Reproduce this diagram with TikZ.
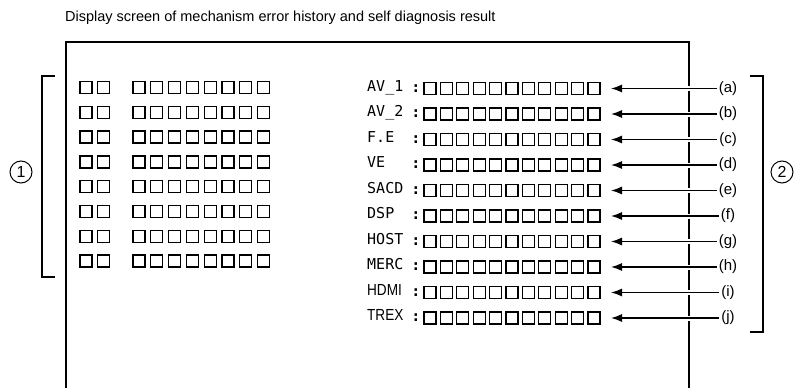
\documentclass[tikz,border=0pt]{standalone}
\usepackage{fontspec}
\setmainfont{Liberation Sans}
\newfontfamily\monofont{DejaVu Sans Mono}
\usetikzlibrary{arrows.meta}

\tikzset{
	cell/.style={draw, line width=1.3pt},
	unitname/.style={anchor=mid west, inner sep=0pt, font=\monofont\fontsize{15}{15}\selectfont},
	tag/.style={inner sep=2pt, font=\fontsize{15}{15}\selectfont},
	pointer/.style={line width=1.3pt, -{Latex[length=11pt,width=8pt]},
		preaction={draw=white, line width=5pt, -, shorten >=70pt}},
	group/.style={line width=1.3pt},
	number/.style={circle, draw, line width=1pt, minimum size=22pt, inner sep=0pt, font=\fontsize{16}{16}\selectfont}
}

\begin{document}
\begin{tikzpicture}[x=1pt, y=-1pt]

	\useasboundingbox (0,0) rectangle (798,388);

	% Title
	\node[anchor=west, inner sep=0pt, font=\fontsize{14.5}{14.5}\selectfont] (title) at (65,18)
		{Display screen of mechanism error history and self diagnosis result};

	% Screen
	\draw[line width=2.2pt] (66,388) -- (66,42) -- (689,42) -- (689,388);

	% Error history
	\foreach \k in {0,...,7} {
		\foreach \x in {80,97.8}
			\draw[cell] (\x,81.5+24.8*\k) rectangle ++(12,12);
		\foreach \j in {0,...,7}
			\draw[cell] (133+17.8*\j,81.5+24.8*\k) rectangle ++(12,12);
	}

	% Self diagnosis
	\foreach \unit [count=\i from 0] in {AV\_1,AV\_2,F.E,VE,SACD,DSP,HOST,MERC}
		\node[unitname] (unit-\i) at (367,88.5+25.5*\i) {\unit};
	\node[unitname, font=\fontsize{16}{16}\selectfont, xscale=0.85] (unit-8) at (367,88.5+25.5*8) {HDMI};
	\node[unitname, font=\fontsize{16}{16}\selectfont, xscale=0.85] (unit-9) at (367,88.5+25.5*9) {TREX};

	\foreach \i in {0,...,9} {
		\node[inner sep=0pt, font=\monofont\bfseries\fontsize{15}{15}\selectfont] (colon-\i) at (416,88.5+25.5*\i) {:};
		\foreach \j in {0,...,10}
			\draw[cell] (424+16.4*\j,82.5+25.5*\i) rectangle ++(12,12);
	}

	% Pointers
	\foreach \t [count=\i from 0] in {a,b,c,d,e,f,g,h,i,j} {
		\node[tag] (tag-\t) at (728,88.5+25.5*\i) {(\t)};
		\coordinate (tip-\t) at (611,88.5+25.5*\i);
		\draw[pointer] (tag-\t.west) -- (tip-\t);
	}

	% Groups
	\draw[group] (55,76) -- (42,76) -- (42,277) -- (55,277);
	\draw[group] (750,76) -- (763,76) -- (763,332) -- (750,332);
	\node[number] (one) at (21,172) {1};
	\node[number] (two) at (782,172) {2};

\end{tikzpicture}
\end{document}
